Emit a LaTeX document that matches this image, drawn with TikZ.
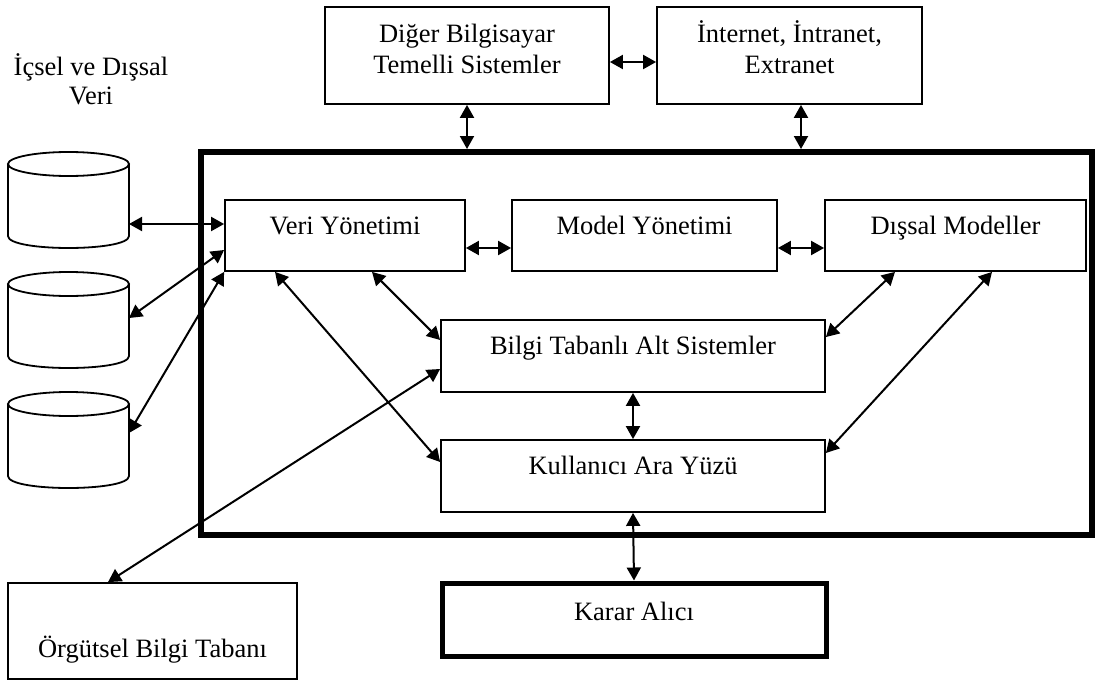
\documentclass[tikz,border=0pt]{standalone}
\usepackage{fontspec}
\setmainfont{Liberation Serif}
\usetikzlibrary{arrows.meta}
\begin{document}
\begin{tikzpicture}[x=1pt,y=-1pt,
  box/.style={draw, line width=1.8pt, rectangle, inner sep=0pt},
  framebox/.style={draw, line width=6pt, rectangle, inner sep=0pt},
  heavybox/.style={draw, line width=5pt, rectangle, inner sep=0pt},
  lbl/.style={anchor=base, inner sep=0pt, font=\fontsize{26.5}{31}\selectfont},
  link/.style={line width=2pt, {Triangle[length=13pt,width=14pt]}-{Triangle[length=13pt,width=14pt]}},
  drum/.style={line width=1.8pt}]
\useasboundingbox (0,0) rectangle (1099,682);

% outer system frame
\node[framebox, minimum width=891pt, minimum height=383pt] (frame) at (646.5,343.5) {};

% external systems at the top
\node[box, minimum width=284pt, minimum height=97pt] (diger) at (467,55.5) {};
\node[lbl] (diger1) at (467,43) {Diğer Bilgisayar};
\node[lbl] (diger2) at (467,74) {Temelli Sistemler};
\node[box, minimum width=265pt, minimum height=97pt] (inet) at (789.5,55.5) {};
\node[lbl] (inet1) at (789.5,43) {İnternet, İntranet,};
\node[lbl] (inet2) at (789.5,74) {Extranet};

% subsystems inside the frame
\node[box, minimum width=240pt, minimum height=71pt] (veri) at (345,235.5) {};
\node[lbl] (veri-t) at (345,234) {Veri Yönetimi};
\node[box, minimum width=265pt, minimum height=71pt] (model) at (644.5,235.5) {};
\node[lbl] (model-t) at (644.5,234) {Model Yönetimi};
\node[box, minimum width=261pt, minimum height=71pt] (dissal) at (955.5,235.5) {};
\node[lbl] (dissal-t) at (955.5,234) {Dışsal Modeller};
\node[box, minimum width=384pt, minimum height=72pt] (bilgi) at (633,356) {};
\node[lbl] (bilgi-t) at (633,354) {Bilgi Tabanlı Alt Sistemler};
\node[box, minimum width=384pt, minimum height=72pt] (kul) at (633,476) {};
\node[lbl] (kul-t) at (633,474) {Kullanıcı Ara Yüzü};

% bottom boxes
\node[heavybox, minimum width=384pt, minimum height=73pt] (karar) at (634,619.5) {};
\node[lbl] (karar-t) at (634,620) {Karar Alıcı};
\node[box, minimum width=289pt, minimum height=96pt] (orgut) at (152.5,631) {};
\node[lbl] (orgut-t) at (152.5,657) {Örgütsel Bilgi Tabanı};

% data sources
\node[lbl] (veri-l1) at (91,76) {İçsel ve Dışsal};
\node[lbl] (veri-l2) at (91,105) {Veri};
\foreach \t in {152,272,392}{
  \draw[drum] (8,\t+12) -- (8,\t+84) .. controls (8,\t+100) and (129,\t+100) .. (129,\t+84) -- (129,\t+12);
  \draw[drum] (68.5,\t+12) ellipse [x radius=60.5, y radius=12];
}
\coordinate (db1) at (129,224);
\coordinate (db2) at (129,318);
\coordinate (db3) at (129,433);

% connectors
\draw[link] (db1) -- ([yshift=11.5pt]veri.west);
\draw[link] (db2) -- ([yshift=-14.5pt]veri.west);
\draw[link] (db3) -- (veri.south west);
\draw[link] ([yshift=-12.5pt]veri.east) -- ([yshift=-12.5pt]model.west);
\draw[link] ([yshift=-12.5pt]model.east) -- ([yshift=-12.5pt]dissal.west);
\draw[link] ([yshift=-6.5pt]diger.east) -- ([yshift=-6.5pt]inet.west);
\draw[link] (diger.south) -- (diger.south |- frame.north);
\draw[link] ([xshift=11.5pt]inet.south) -- ([xshift=11.5pt]inet.south |- frame.north);
\draw[link] ([xshift=27pt]veri.south) -- ([yshift=16pt]bilgi.west);
\draw[link] ([xshift=-70pt]veri.south) -- ([yshift=14pt]kul.west);
\draw[link] ([xshift=-60.5pt]dissal.south) -- ([yshift=19pt]bilgi.east);
\draw[link] ([xshift=36.5pt]dissal.south) -- ([yshift=23pt]kul.east);
\draw[link] (bilgi.south) -- (kul.north);
\draw[link] (kul.south) -- (karar.north);
\draw[link] ([xshift=-44.5pt]orgut.north) -- ([yshift=-13pt]bilgi.west);
\end{tikzpicture}
\end{document}
